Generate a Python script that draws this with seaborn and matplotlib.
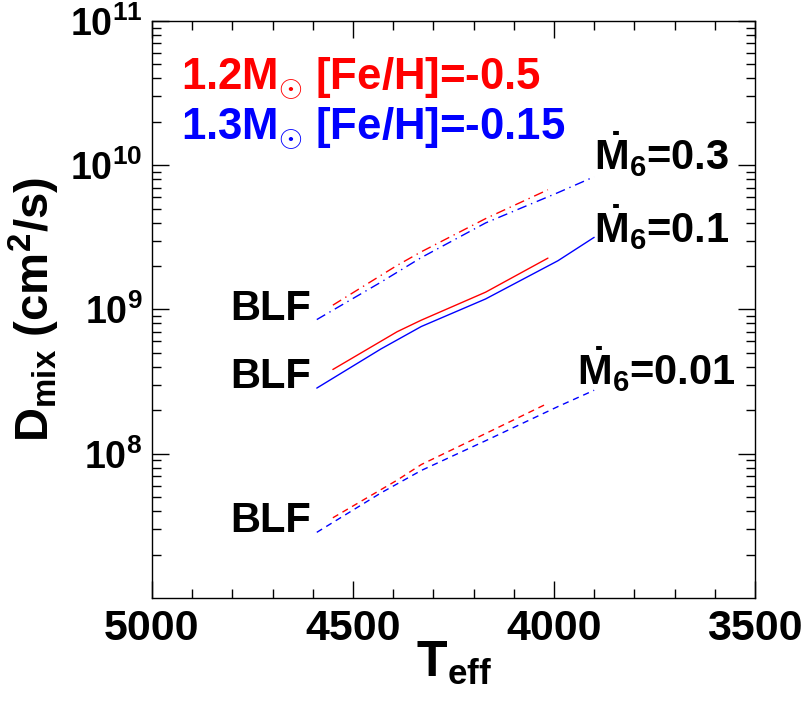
import numpy as np
import pandas as pd
import matplotlib
matplotlib.use("Agg")
import matplotlib.pyplot as plt
from matplotlib.ticker import MultipleLocator, LogLocator, FixedLocator, NullFormatter
import seaborn as sns

# Valores (Teff en K, log10 Dmix en cm^2/s)
teff_13 = [4590, 4430, 4330, 4170, 3990, 3900]
logd_13_m03 = [8.93, 9.19, 9.36, 9.60, 9.81, 9.92]
logd_13_m01 = [8.455, 8.727, 8.882, 9.073, 9.338, 9.50]
logd_13_m001 = [7.455, 7.729, 7.884, 8.09, 8.327, 8.44]

teff_12 = [4550, 4390, 4330, 4170, 4015]
logd_12_m03 = [9.03, 9.306, 9.40, 9.63, 9.83]
logd_12_m01 = [8.584, 8.846, 8.926, 9.12, 9.356]
logd_12_m001 = [7.556, 7.817, 7.925, 8.14, 8.35]

mdot_levels = ['0.3', '0.1', '0.01']
xticks = [5000, 4500, 4000, 3500]
yticks = [1e8, 1e9, 1e10, 1e11]


def build_frame():
    rows = []
    series = {
        ('1.2', '0.3'): (teff_12, logd_12_m03),
        ('1.2', '0.1'): (teff_12, logd_12_m01),
        ('1.2', '0.01'): (teff_12, logd_12_m001),
        ('1.3', '0.3'): (teff_13, logd_13_m03),
        ('1.3', '0.1'): (teff_13, logd_13_m01),
        ('1.3', '0.01'): (teff_13, logd_13_m001),
    }
    for (m, md), (t, ld) in series.items():
        for ti, li in zip(t, ld):
            rows.append({'modelo': m, 'mdot': md, 'teff': ti, 'dmix': 10 ** li})
    return pd.DataFrame(rows)


def main():
    sns.set_theme(style="ticks")
    plt.rcParams['font.family'] = ['Liberation Sans', 'DejaVu Sans']
    plt.rcParams['font.weight'] = 'bold'
    plt.rcParams['text.color'] = 'black'
    plt.rcParams['axes.labelcolor'] = 'black'
    plt.rcParams['xtick.color'] = 'black'
    plt.rcParams['ytick.color'] = 'black'
    plt.rcParams['mathtext.fontset'] = 'custom'
    plt.rcParams['mathtext.rm'] = 'Liberation Sans:bold'
    plt.rcParams['mathtext.it'] = 'Liberation Sans:bold'
    plt.rcParams['mathtext.bf'] = 'Liberation Sans:bold'

    df = build_frame()

    fig = plt.figure(figsize=(8.05, 7.04), dpi=100)
    ax = fig.add_axes([0.1888, 0.1506, 0.749, 0.8196])

    sns.lineplot(data=df, x='teff', y='dmix', hue='modelo', style='mdot',
                 units='mdot', estimator=None, sort=False,
                 palette={'1.2': '#ff0000', '1.3': '#0000ff'},
                 dashes={'0.3': (7, 3.5, 1, 3.5), '0.1': '', '0.01': (4.5, 3.5)},
                 linewidth=1.0, legend=False, ax=ax)

    ax.set_yscale('log')
    ax.set_xlim(5000, 3500)
    ax.set_ylim(1e7, 1e11)

    ax.set_xticks(xticks)
    ax.xaxis.set_minor_locator(MultipleLocator(100))
    ax.yaxis.set_major_locator(FixedLocator(yticks))
    ax.yaxis.set_minor_locator(LogLocator(base=10, subs=np.arange(2, 10), numticks=50))
    ax.yaxis.set_minor_formatter(NullFormatter())

    ax.tick_params(which='both', direction='in', top=True, right=True, width=1.0, color='black')
    ax.tick_params(which='major', length=12.5)
    ax.tick_params(which='minor', length=6.5)
    ax.tick_params(axis='x', labelsize=31, pad=8)
    ax.tick_params(axis='y', labelsize=27, pad=7)
    for lab in ax.get_xticklabels() + ax.get_yticklabels():
        lab.set_fontweight('bold')
    for sp in ax.spines.values():
        sp.set_linewidth(1.0)
        sp.set_color('black')

    ax.set_xlabel('T$_{eff}$', fontsize=36, fontweight='bold', va='top')
    ax.xaxis.set_label_coords(0.5, -0.072)
    ax.set_ylabel('D$_{mix}$ (cm$^2$/s)', fontsize=34, fontweight='bold')
    ax.yaxis.set_label_coords(-0.15, 0.5)

    # Textos de los modelos
    ax.text(0.048, 0.88, r'1.2$M_{\odot}$ [Fe/H]=-0.5', color='#ff0000', fontsize=31.5,
            fontweight='bold', transform=ax.transAxes, va='baseline')
    ax.text(0.048, 0.794, r'1.3$M_{\odot}$ [Fe/H]=-0.15', color='#0000ff', fontsize=31.5,
            fontweight='bold', transform=ax.transAxes, va='baseline')

    # Etiquetas BLF al inicio de cada curva
    for ld in [logd_13_m03, logd_13_m01, logd_13_m001]:
        ax.annotate('BLF', xy=(teff_13[0], 10 ** ld[0]), xytext=(-6, 0),
                    textcoords='offset pixels', ha='right', va='baseline',
                    fontsize=30, fontweight='bold')

    # Etiquetas de tasa de perdida de masa al final
    offsets = {'0.3': (0, 7), '0.1': (0, -6), '0.01': (-17, 5)}
    finales = {'0.3': logd_13_m03[-1], '0.1': logd_13_m01[-1], '0.01': logd_13_m001[-1]}
    for md in mdot_levels:
        ax.annotate(r'$\dot{M}_6$=' + md, xy=(teff_13[-1], 10 ** finales[md]),
                    xytext=offsets[md], textcoords='offset pixels', ha='left',
                    va='baseline', fontsize=30, fontweight='bold')

    fig.savefig('out.png', dpi=100)
    plt.close(fig)


if __name__ == "__main__":
    main()
